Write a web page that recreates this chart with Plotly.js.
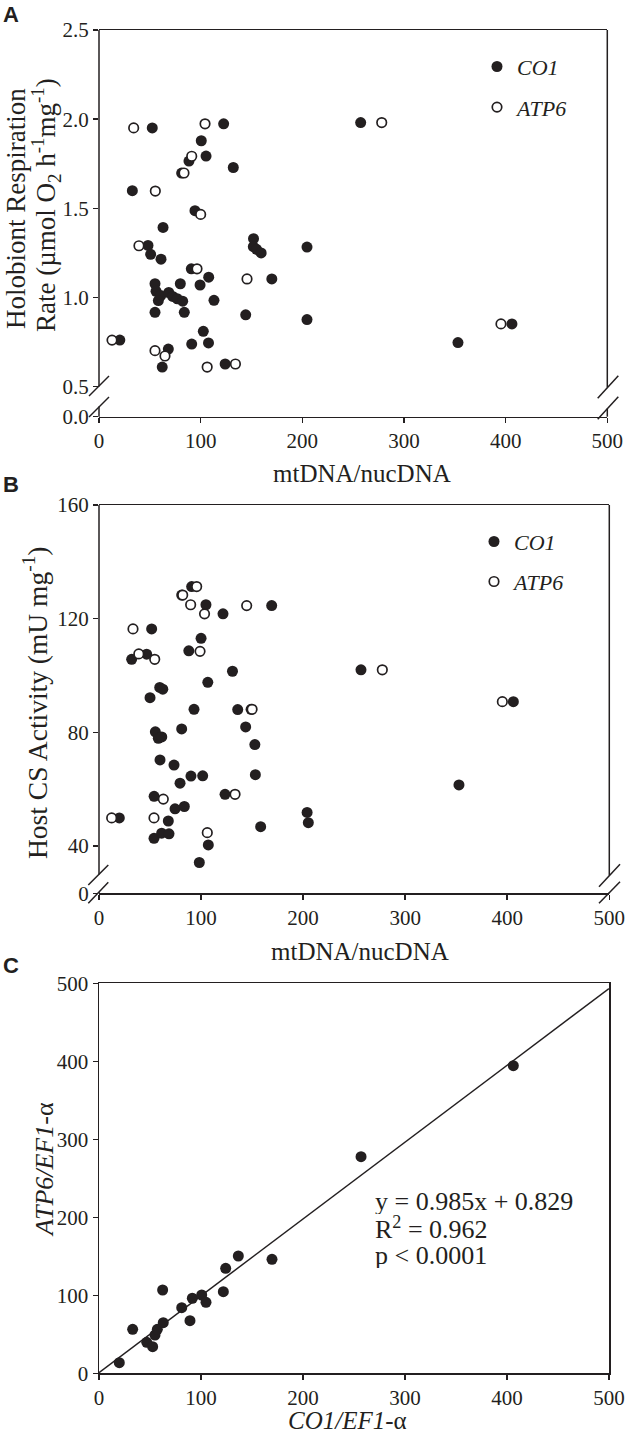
<!DOCTYPE html>
<html>
<head>
<meta charset="utf-8">
<script src="https://cdn.plot.ly/plotly-3.0.1.min.js"></script>
<style>html,body{margin:0;padding:0;background:#fff;}</style>
</head>
<body>
<div id="chart" style="width:630px;height:1437px;"></div>
<script>
// ---------- DATA ----------
// Panel A: holobiont respiration vs mtDNA/nucDNA
const respCO1_x = [52.4,122.6,100.6,105.3,132.1,88.5,81.3,32.8,94.4,63.0,48.2,50.8,61.0,90.8,107.9,99.4,55.1,80.0,56.1,60.7,58.4,68.6,72.5,77.0,82.3,113.1,55.1,83.9,144.3,204.6,204.6,152.0,151.8,155.0,159.5,170.0,102.6,107.7,91.2,68.2,62.2,124.1,20.5,257.4,353.1,406.2];
const respCO1_y = [1.951,1.974,1.879,1.793,1.729,1.765,1.698,1.599,1.487,1.393,1.292,1.242,1.215,1.161,1.114,1.070,1.077,1.077,1.035,1.011,0.983,1.028,1.006,0.993,0.979,0.984,0.917,0.917,0.903,0.876,1.283,1.330,1.285,1.270,1.250,1.104,0.810,0.745,0.739,0.711,0.610,0.627,0.761,1.981,0.747,0.852];
const respATP6_x = [34.1,104.3,91.2,83.6,55.4,100.0,39.3,96.4,145.6,12.8,55.1,64.9,106.4,134.2,278.1,395.4];
const respATP6_y = [1.951,1.974,1.792,1.698,1.597,1.466,1.290,1.161,1.104,0.761,0.702,0.672,0.610,0.627,1.981,0.852];

// Panel B: host CS activity vs mtDNA/nucDNA
const csCO1_x = [51.6,32.0,46.7,50.0,59.5,62.5,104.8,121.5,100.0,88.0,106.6,130.8,93.1,135.9,143.7,152.7,153.2,169.2,81.0,55.2,58.1,61.5,59.8,73.5,79.4,90.1,101.6,123.5,54.0,74.5,83.6,67.9,53.9,61.4,68.6,107.1,98.3,158.4,19.9,203.9,205.1,256.7,352.7,406.0,90.8,81.0,149.0];
const csCO1_y = [116.4,105.7,107.5,92.2,95.8,95.2,124.9,121.7,113.1,108.7,97.6,101.5,88.1,88.0,81.9,75.7,65.1,124.6,81.2,80.2,77.9,78.4,70.3,68.5,62.1,64.6,64.7,58.2,57.5,53.1,53.9,48.8,42.7,44.5,44.3,40.4,34.2,46.8,49.9,51.8,48.2,102.0,61.5,90.8,131.3,128.3,88.1];
const csATP6_x = [33.3,39.0,54.6,82.0,95.7,89.8,103.4,99.0,144.7,150.0,63.0,53.9,12.4,106.1,133.3,277.6,395.2];
const csATP6_y = [116.4,107.6,105.7,128.3,131.3,124.9,121.7,108.5,124.6,88.1,56.5,49.9,49.9,44.7,58.2,102.0,90.8];

// Panel C: ATP6/EF1-a vs CO1/EF1-a
const relCO1 = [19.9,33.0,46.8,52.6,54.9,57.2,63.0,62.4,81.1,89.2,91.5,100.7,104.9,121.9,124.2,136.6,169.6,256.9,406.2];
const relATP6 = [13.6,56.4,39.7,34.1,49.1,56.4,64.9,106.8,84.1,67.4,96.2,100.4,91.0,104.6,134.6,150.4,146.1,277.7,394.4];
const fitSlope = 0.985, fitIntercept = 0.829;
const fitX = [0, 500];

const xTicks = [0,100,200,300,400,500];
const respTickLabels = ['0.0','0.5','1.0','1.5','2.0','2.5'];
const csTickLabels = ['0','40','80','120','160'];
const cTickVals = [0,100,200,300,400,500];

// ---------- LAYOUT HELPERS ----------
const W = 630, H = 1437;
const px = v => v / W;
const py = v => 1 - v / H;
const INK = '#231f20';
const serif = 'Liberation Serif';

// axis-break bottoms (fake ranges that put the "0" label below the break)
const respLow = 0.3315, csLow = 23.36;

const filled = {symbol:'circle', size:11, color:INK, line:{width:0}};
const open = {symbol:'circle', size:9.5, color:'#ffffff', line:{color:INK, width:1.7}};

const traces = [
  {x:respCO1_x, y:respCO1_y, type:'scatter', mode:'markers', marker:filled, name:'<i>CO1</i>', xaxis:'x', yaxis:'y', legend:'legend'},
  {x:respATP6_x, y:respATP6_y, type:'scatter', mode:'markers', marker:open, name:'<i>ATP6</i>', xaxis:'x', yaxis:'y', legend:'legend2'},
  {x:csCO1_x, y:csCO1_y, type:'scatter', mode:'markers', marker:filled, name:'<i>CO1</i>', xaxis:'x2', yaxis:'y2', legend:'legend3'},
  {x:csATP6_x, y:csATP6_y, type:'scatter', mode:'markers', marker:open, name:'<i>ATP6</i>', xaxis:'x2', yaxis:'y2', legend:'legend4'},
  {x:fitX, y:fitX.map(v => fitSlope*v + fitIntercept), type:'scatter', mode:'lines', line:{color:INK, width:1.5}, xaxis:'x3', yaxis:'y3', showlegend:false},
  {x:relCO1, y:relATP6, type:'scatter', mode:'markers', marker:filled, xaxis:'x3', yaxis:'y3', showlegend:false}
];

function tickFont(){ return {family:serif, size:21, color:INK}; }
function xa(domain, anchor){
  return {domain:domain, anchor:anchor, range:[0,500], tickvals:xTicks, ticktext:xTicks.map(String),
    ticks:'outside', ticklen:5, tickwidth:1.5, tickcolor:INK, showline:true, mirror:true, linecolor:INK, linewidth:1.5,
    showgrid:false, zeroline:false, tickfont:tickFont(), fixedrange:true};
}
function ya(domain, anchor, range, vals, texts, line){
  return {domain:domain, anchor:anchor, range:range, tickvals:vals, ticktext:texts,
    ticks:'outside', ticklen:5, tickwidth:1.5, tickcolor:INK, showline:line, mirror:line, linecolor:INK, linewidth:1.5,
    showgrid:false, zeroline:false, tickfont:tickFont(), fixedrange:true};
}

function seg(x0,y0,x1,y1){
  return {type:'line', xref:'paper', yref:'paper', x0:px(x0), y0:py(y0), x1:px(x1), y1:py(y1), line:{color:INK, width:1.5}};
}
const shapes = [
  // Panel A spines with break
  seg(99,30,99,386.5), seg(99,406.5,99,416.7),
  seg(607.3,30,607.3,387.5), seg(607.3,408.5,607.3,416.7),
  seg(89,396,109,376), seg(89,417,109,397),
  seg(597.7,398.3,618.3,375.7), seg(597.7,419.3,618.3,396.7),
  // Panel B spines with break
  seg(99,505,99,874.5), seg(99,892,99,893.3),
  seg(609.3,505,609.3,875.5), seg(609.3,892.5,609.3,893.3),
  seg(88.3,885,108.3,865), seg(88.3,903.3,108.3,882.3),
  seg(599,886.7,620,864.3), seg(599,903.3,620,881.7)
];

function ann(text, x, y, opts){
  return Object.assign({text:text, xref:'paper', yref:'paper', x:px(x), y:py(y), showarrow:false,
    xanchor:'center', yanchor:'middle', font:{family:serif, size:25, color:INK}}, opts||{});
}
function fnt(size){ return {family:serif, size:size, color:INK}; }
const labelFont = {family:'Liberation Sans', size:22, color:INK, weight:'bold'};
const eqOpts = {xanchor:'left', font:fnt(26), height:26, borderpad:0, valign:'middle'};
const annotations = [
  ann('<b>A</b>', 10.5, 0, {font:labelFont, yanchor:'top'}),
  ann('<b>B</b>', 11, 484, {font:labelFont}),
  ann('<b>C</b>', 11, 965.5, {font:labelFont}),
  ann('Holobiont Respiration', 16, 209, {textangle:-90, font:fnt(27)}),
  ann('Rate (µmol O<sub>2</sub> h<sup>-1</sup>mg<sup>-1</sup>)', 46.5, 205.5, {textangle:-90, font:fnt(27)}),
  ann('Host CS Activity (mU mg<sup>-1</sup>)', 35.5, 703.5, {textangle:-90, font:fnt(27.5)}),
  ann('<i>ATP6/EF1</i>-α', 44, 1170, {textangle:-90, font:fnt(26)}),
  ann('mtDNA/nucDNA', 361.5, 473.5),
  ann('mtDNA/nucDNA', 360, 951),
  ann('<i>CO1/EF1</i>-α', 347.5, 1420.5),
  ann('y = 0.985x + 0.829', 374, 1200.9, eqOpts),
  ann('R<sup>2</sup> = 0.962', 374, 1228.0, eqOpts),
  ann('p < 0.0001', 374, 1254.8, eqOpts)
];

function leg(x, y){
  return {x:px(x), y:py(y), xanchor:'left', yanchor:'middle', bgcolor:'rgba(0,0,0,0)', borderwidth:0,
    font:{family:serif, size:22, color:INK}, itemclick:false, itemdoubleclick:false};
}

const layout = {
  width:W, height:H, margin:{l:0,r:0,t:0,b:0},
  paper_bgcolor:'#ffffff', plot_bgcolor:'#ffffff',
  xaxis: xa([px(99), px(607.3)], 'y'),
  yaxis: ya([py(416.7), py(30)], 'x', [respLow, 2.5], [respLow,0.5,1,1.5,2,2.5], respTickLabels, false),
  xaxis2: xa([px(99), px(609.3)], 'y2'),
  yaxis2: ya([py(893.3), py(505)], 'x2', [csLow, 160], [csLow,40,80,120,160], csTickLabels, false),
  xaxis3: xa([px(99), px(609)], 'y3'),
  yaxis3: ya([py(1373.3), py(983.3)], 'x3', [0, 500], cTickVals, cTickVals.map(String), true),
  legend: leg(477, 66.7),
  legend2: leg(477, 107.3),
  legend3: leg(474, 541.7),
  legend4: leg(474, 581.7),
  shapes: shapes,
  annotations: annotations,
  showlegend: true,
  hovermode: false
};

Plotly.newPlot('chart', traces, layout, {displayModeBar:false, staticPlot:true});
</script>
</body>
</html>
